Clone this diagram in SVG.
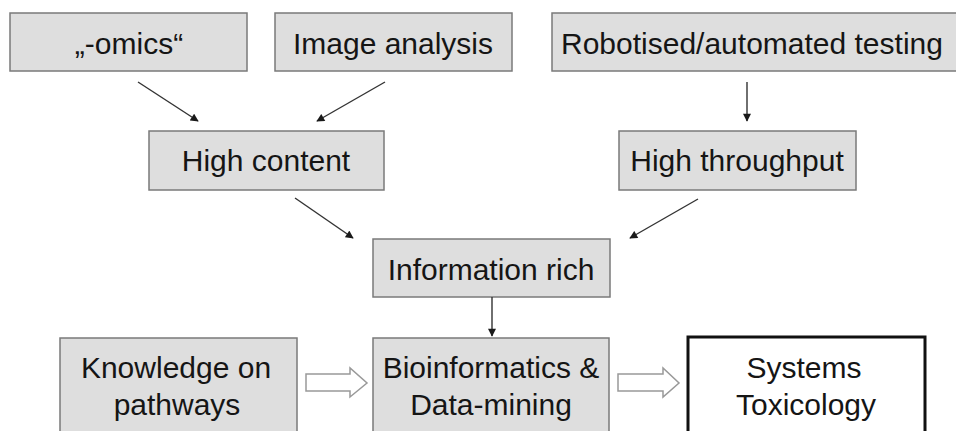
<svg xmlns="http://www.w3.org/2000/svg" width="956" height="431" viewBox="0 0 956 431">
<defs>
<marker id="ah" viewBox="0 0 10 10" refX="9" refY="5" markerWidth="9" markerHeight="8" markerUnits="userSpaceOnUse" orient="auto">
<path d="M0,0 L10,5 L0,10 z" fill="#1a1a1a"/>
</marker>
<style>
.box{fill:#dedede;stroke:#7a7a7a;stroke-width:1.5}
.sys{fill:#fff;stroke:#111;stroke-width:3}
.t{font-family:"Liberation Sans",Arial,sans-serif;font-size:30px;fill:#151515;text-anchor:middle}
.c{stroke:#333;stroke-width:1.4;fill:none;marker-end:url(#ah)}
.h{fill:#fff;stroke:#999;stroke-width:1.5}
</style>
</defs>
<rect width="956" height="431" fill="#fff"/>
<g id="omics"><rect class="box" x="10" y="13" width="237" height="58"/><text class="t" x="129" y="54">„-omics“</text></g>
<g id="image"><rect class="box" x="275" y="13" width="237" height="58"/><text class="t" x="393" y="54">Image analysis</text></g>
<g id="robot"><rect class="box" x="552" y="13" width="420" height="58"/><text class="t" x="561" y="54" style="text-anchor:start">Robotised/automated testing</text></g>
<g id="highcontent"><rect class="box" x="149" y="131" width="235" height="59"/><text class="t" x="266" y="171">High content</text></g>
<g id="highthroughput"><rect class="box" x="619" y="131" width="237" height="59"/><text class="t" x="737" y="171">High throughput</text></g>
<g id="info"><rect class="box" x="373" y="239" width="237" height="58"/><text class="t" x="491" y="280">Information rich</text></g>
<g id="knowledge"><rect class="box" x="60" y="338" width="237" height="110"/><text class="t" x="176" y="378">Knowledge on</text><text class="t" x="177" y="415">pathways</text></g>
<g id="bioinf"><rect class="box" x="373" y="338" width="236" height="110"/><text class="t" x="491" y="378">Bioinformatics &amp;</text><text class="t" x="491" y="415">Data-mining</text></g>
<g id="systox"><rect class="sys" x="688" y="337" width="237" height="110"/><text class="t" x="804" y="378">Systems</text><text class="t" x="806" y="415">Toxicology</text></g>
<g id="connectors">
<line class="c" x1="138" y1="82" x2="198" y2="121"/>
<line class="c" x1="385" y1="82" x2="317" y2="121"/>
<line class="c" x1="747" y1="82" x2="747" y2="121"/>
<line class="c" x1="295" y1="198" x2="353" y2="238"/>
<line class="c" x1="698" y1="199" x2="630" y2="238"/>
<line class="c" x1="492" y1="297" x2="492" y2="336"/>
<path class="h" d="M306,374 L350,374 L350,368 L367,383 L350,397 L350,391 L306,391 Z"/>
<path class="h" d="M618,374 L663,374 L663,368 L679,383 L663,397 L663,391 L618,391 Z"/>
</g>
</svg>
